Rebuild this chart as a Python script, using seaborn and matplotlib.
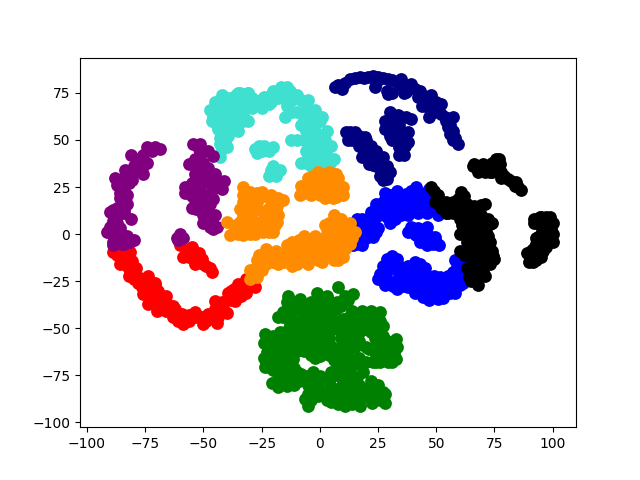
import matplotlib
matplotlib.use('Agg')
import matplotlib.pyplot as plt
import seaborn as sns

# puntos, un grupo por color
turq_x = [-45.8, -46.5, -43.7, -41.5, -39.4, -40.8, -42.2, -42.9, -43, -44.4, -42.2, -39.4, -35.8, -32.9, -34.4, -31.5, -34.4, -30.8, -27.9, -25.1, -20.8, -20.8, -16.5, -12.9, -10, -14.3, -15, -10, -5.8, 0, -4.3, -2.9, 2.1, -12.2, -10, -4.3, 2.8, -2.9, -5.8, 4.3, -1.5, -38, -38, -40, -44, -5, -2, -1, 3, -28, -24, -20, -25, -21, -17, -22,
          -44, -42, -40, -37, -36, -36, -38, -41, -44, -41, -40, -43, -33, -32, -29, -24, -22, -18, -18, -15, -14, -12, -12, -8, -7, -3, -2, -6, -1, -7, -3, 0, -1, -3, 1, -5, -1, -37, -35, -30, -40, -42, -26, -22, -27, -19, -19, -20,
          -47, -45, -42, -36, -35, -31, -38, -35, -31, -33, -29, -25, -22, -20, -16, -13, -8, -5, -2, 1, -8, -3, 3, 5, 3, -6, 6, -8, -4, 3]
turq_y = [62, 60, 56, 53, 52, 49, 45, 41, 51, 67, 71, 72, 70, 60, 65, 67, 75, 75, 69, 71, 70, 74, 78, 74, 74, 68, 62, 65, 66, 60, 59, 55, 50, 50, 50, 47, 43, 43, 38, 38, 36, 62, 67, 58, 61, 52, 50, 40, 36, 45, 47, 46, 44, 34, 34, 31,
          64, 66, 70, 73, 64, 60, 56, 60, 58, 51, 46, 48, 74, 70, 72, 73, 69, 72, 76, 75, 78, 71, 65, 65, 61, 63, 58, 55, 53, 50, 47, 45, 42, 40, 40, 41, 38, 66, 68, 69, 63, 57, 47, 44, 43, 33, 31, 36,
          66, 70, 74, 74, 75, 75, 60, 55, 60, 63, 67, 67, 73, 76, 72, 76, 71, 71, 66, 62, 58, 52, 55, 47, 47, 44, 40, 38, 36, 33]

purple_x = [-54.4, -51.5, -50.8, -45.8, -53.7, -50.1, -53.7, -49.4, -45.1, -42.9, -58, -56.5, -51.5, -46.5, -45.8, -53.7, -53, -49.4, -45.1, -45.8, -46.5, -50, -50, -51, -68.7, -71, -74.4, -78, -74.4, -83.7, -79.4, -87.3, -80.8, -85.8, -83, -90, -85, -81, -86.6, -91.6, -85.8, -88.7, -81.5, -85, -88, -88.7, -85.8, -81.5, -61.5, -58.7,
            -52, -53, -48, -49, -46, -44, -55, -53, -55, -48, -47, -51, -50, -48, -47, -44, -72, -76, -76, -80, -82, -82, -85, -84, -86, -83, -87, -88, -84, -89, -87, -89, -87, -84, -87, -84, -90, -61, -60,
            -48, -56, -48, -58, -55, -50, -45, -42, -41, -81, -76, -88, -84, -89, -84, -90, -83, -80]
purple_y = [48, 48, 43.5, 41.4, 40, 38, 32, 32, 30.3, 26.7, 25, 22.3, 25, 23.2, 18.8, 17.9, 13.5, 13.5, 10, 2.8, 6.4, 20, 28, 36, 45, 46, 46, 40, 38, 34, 33, 26, 28.5, 22, 20.5, 12, 15, 8, 10, 1, 3, -4, -3.4, -5, -4, -6, -4.4, -4, -1.8, -1.8,
            45, 36, 35, 29, 27, 28, 27, 22, 20, 20, 16, 16, 10, 9, 4, 4, 44, 42, 36, 36, 31, 27, 28, 25, 19, 16, 14, 11, 11, 7, 6, 2, 0, -1, -2, -5, 1, -3, 0,
            44, 37, 28, 22, 14, 6, 32, 24, 28, 42, 32, 30, 30, 13, 13, 4, -1, -3]

red_x = [-88.7, -85.8, -81.5, -80.8, -81.5, -78.7, -73.7, -76.5, -73, -73.7, -69.4, -68, -69.4, -64.4, -63, -58.7, -59.4, -53.7, -53.7, -50, -48, -43.7, -45, -41.5, -39.4, -36.5, -35, -31.5, -28, -31.5, -60, -55, -58.7, -53.7, -50.8, -53.7, -48.7, -46.1, -85, -71,
         -87, -84, -83, -79, -82, -76, -74, -77, -72, -70, -66, -66, -62, -61, -56, -56, -51, -49, -46, -45, -42, -38, -37, -33, -34, -29, -57, -56, -51, -50, -47, -56, -52,
         -86, -78, -80, -76, -70, -66, -71, -63, -50, -44, -38, -40]
red_y = [-9.7, -12.4, -9.7, -14.2, -20.3, -22, -22, -28.3, -31, -37, -30, -33.6, -38, -38, -44, -47.8, -42.5, -41.6, -44, -47.8, -42.5, -44, -35.4, -39, -31, -35.4, -26.5, -31, -28.3, -24, -6, -7, -12, -12, -13, -16, -17, -20, -8, -27,
         -11, -14, -17, -18, -22, -24, -26, -24, -34, -35, -36, -41, -40, -46, -43, -46, -44, -46, -43, -40, -36, -35, -29, -28, -33, -25, -9, -12, -15, -16, -18, -9, -10,
         -16, -26, -24, -32, -41, -33, -26, -38, -44, -47, -30, -42]

orange_x = [-33, -33, -34.4, -30, -25, -20.8, -15.8, -31.5, -26.5, -20.8, -19.3, -18.6, -28.6, -24.4, -33, -38.6, -40, -36.5, -34.4, -25.8, -18.6, -31.5, -8.6, -7.9, -2.9, 2.8, 7.1, 0, 5.7, -3, 5.7, 10, 7.1, 2.1, 4.3, -27, -25.7, -21.4, -22, -15.7, -12, -11.4, -7.8, -6.4, -0.7, -1.4, 4.3, 7.2, 10.8, 13, 10.8, 4.3, -30, -30, 6.4, 2.9, 12.2, 7.2, 10, 3, 7,
            -36, -33, -31, -28, -27, -23, -22, -21, -29, -24, -21, -18, -29, -24, -22, -19, -33, -30, -27, -29, -24, -21, -33, -27, -18, -35, -30, -20,
            -5, -6, -4, -7, -1, 1, -1, 4, 2, 4, 2, 6, 8, 8, 10, 7, -1, 5,
            -28, -27, -25, -23, -22, -24, -20, -18, -19, -16, -14, -13, -10, -10, -8, -9, -6, -4, -4, -3, -1, 1, 1, 2, 3, 5, 7, 8, 0, 6, 9, 11, 4, 6, 10, 13, 3, 9, -2,
            -27, -26, -23, -19, -14, -12, -9, -7, -14, -10, -5, 1, 6, 8, 10, 13, 14, 15, 2, 6, 9, 13]
orange_y = [25, 17, 13.5, 22.3, 22.3, 20.5, 18, 10, 13.5, 10, 4.6, 6.4, 2.8, 1, -0.7, -0.7, 6.4, 2.8, 6.4, 6.4, 15, 17, 20.5, 25.8, 31, 32, 32, 20.5, 19, 25, 32, 25, 19.6, 20, 26, -23, -15, -12.4, -10.6, -15, -17, -8, -2.6, -11.5, -14, -6, -2.6, -11.5, -2.6, 2.7, -8, -10, -19, -24, 8.1, 2.8, 3.7, 1, -2.5, -2.5, -4,
            5, 4, 2, 0, 4, 4, 1, 3, 8, 8, 7, 10, 12, 12, 14, 13, 10, 15, 17, 20, 20, 18, 21, 22, 19, 0, 0, 1,
            30, 25, 21, 22, 24, 30, 33, 33, 27, 22, 19, 24, 27, 30, 21, 20, 28, 29,
            -20, -17, -19, -16, -14, -12, -15, -16, -13, -12, -10, -14, -12, -6, -7, -10, -6, -3, -8, -12, -9, -6, -11, -2, -7, -6, -7, -3, -3, -1, 1, 1, 6, 5, 5, -1, 0, -6, -1,
            -14, -11, -8, -9, -6, -4, -3, -1, -15, -16, -16, -15, -14, -14, -12, -5, -2, 1, 5, 10, 8, 6]

green_x = [-13.6, -8.6, -15.7, -1.4, 1.5, 7.9, 14.3, 10.8, 7.2, -5.7, -8.6, 0, 4.3, 12.9, 18.6, 25.8, 22.9, 17.2, 8.6, -23.6, -17.1, -21.4, -12.1, -22.9, -15.7, -8.6, -23.6, -17.1, -12.8, -20.7, -14.3, -4.3, 1.5, 0, -5, -6.4, -5.7, 0, -2.8, 4.3, 4.3, 10, 8.6, 12.9, 11.5, 18.6, 14.3, 10.8, 17.2, 22.2, 27.9, 24.3, 20, 27.2, 32.9, 24.3, 32.9, 29.3, 22.9, 23.6, 5, -11.4, -18.6, -11.4, 7.2, -12.8, -2.8, -21.4, 27.2, 12.9,
           -12, -4, 3, 12, -12, -9, -2, 3, 7, 14, 18, 22, -16, -12, -4, 3, 7, 15, 20, 25, -9, -5, 0, 5, 11, 15, -20, -16, -8, -4, 4, 9, 14, -24, -19, -12, -2, 2, 9, 29, 25, 32, 28,
           -24, -20, -16, -13, -7, -4, 4, 12, 24, 21, 32, -20, -14, -11, 8, 14, 26, 31, -16, -9, -3, 2, 7, 13, 16, -18, -11, -5, -2, 5, 10, 17, 22, 27, -4, 0, 3, 8, 12, 16, 20, 24, 28, 5, 8, 14,
           17, 20, 17, 20, 24, 28, 31, 33, 18, 26, 22, 14, 10, 13, 18, 24, 22, 27,
           -14, -10, -14, -7, -7, -13, -18, -15, -8, -11, -20, -14, -10, -18, -23, -21, -16, -13, -10, -18, -15, -8, -5, -3, 5, -1, -3, 0, -1, 5, 5, 9, 6, 2, 9, -1, -6, 2, -2, 6, 11, 10, 7, 15, 17, 16, 9, 12, 18, 22, 25, 26, 6, 11, 3, 10, 14, -1]
green_y = [-32.7, -34.5, -41.6, -31, -38, -28.3, -31.8, -32.7, -36.3, -39.8, -46.9, -43.4, -45.1, -43.4, -43.4, -41.6, -47.8, -48.7, -50.4, -53.1, -52.2, -57.5, -54, -62.8, -61, -57.5, -70.8, -68.1, -75.2, -78.8, -80.5, -59.3, -55.7, -64.6, -91.1, -87.6, -75.2, -75.2, -84, -87.6, -77, -73.4, -66.4, -59.3, -68.1, -73.4, -82.3, -91.1, -91.1, -89.4, -89.4, -80.5, -82.3, -54, -55.7, -59.3, -66.4, -68.1, -68.1, -54.9, -59.3, -66.4, -73.4, -77, -82.3, -48.7, -52.2, -68.1, -61, -52.2,
           -36, -36, -33, -35, -40, -38, -41, -41, -40, -41, -41, -41, -44, -45, -46, -49, -46, -46, -46, -44, -50, -51, -50, -51, -50, -52, -54, -56, -54, -55, -55, -55, -56, -58, -61, -59, -60, -60, -60, -57, -56, -60, -64,
           -66, -64, -65, -62, -62, -64, -64, -64, -64, -61, -63, -72, -70, -71, -70, -70, -68, -68, -76, -78, -77, -77, -75, -74, -76, -78, -80, -80, -80, -81, -79, -80, -78, -84, -88, -83, -84, -86, -86, -86, -86, -85, -85, -89, -90, -90,
           -57, -60, -66, -68, -68, -67, -66, -60, -69, -46, -44, -44, -45, -48, -51, -51, -52, -49,
           -36, -40, -40, -43, -47, -48, -44, -52, -52, -56, -57, -60, -62, -67, -68, -71, -72, -67, -73, -81, -77, -74, -85, -73, -73, -46, -44, -38, -36, -36, -41, -38, -48, -52, -52, -56, -58, -63, -66, -67, -72, -60, -62, -60, -52, -68, -76, -78, -84, -82, -80, -88, -84, -83, -88, -89, -83, -86]

navy_x = [6.4, 9.3, 12.9, 17.2, 20.7, 25, 29.3, 23.6, 29.3, 35, 37.2, 34.3, 39.3, 43.6, 47.9, 52.2, 47.2, 49.3, 53.6, 57.2, 55, 57.2, 57.2, 59.3, 56.5, 44.3, 11.4, 15, 19.3, 16.4, 19.3, 22.2, 22.9, 25.7, 29.3, 22.9, 27.9, 27.2, 25, 30, 33.6, 39.3, 30, 30, 35.8, 32.2, 37.9, 35, 36.5, 32.9,
          8, 11, 15, 19, 23, 27, 31, 33, 36, 38, 41, 42, 45, 50, 46, 49, 52, 54, 56, 56, 58, 29, 31, 24, 36,
          13, 17, 14, 17, 18, 20, 21, 24, 26, 27, 24, 28, 26, 32, 35, 37, 31, 32, 34, 33, 36, 34, 37, 31,
          44, 47, 43, 12, 20, 22, 18, 24, 27, 21, 29, 30, 29, 28, 28, 30, 38, 34, 36]
navy_y = [78, 77.2, 82.5, 83.4, 83.4, 83.4, 82.5, 78, 74.5, 82.5, 75.4, 79, 79.8, 74.5, 73.6, 69.2, 65.7, 68.3, 62.1, 62.1, 56.8, 55, 49.7, 48, 53.3, 71, 54.2, 54.2, 51.5, 48.9, 44.4, 43.5, 36.5, 35.6, 33.8, 40, 30.3, 28.5, 40, 64.8, 63, 61.2, 59.5, 55, 53.3, 49.7, 48.9, 43.5, 47, 57.7,
          79, 80, 83, 83, 84, 83, 82, 81, 78, 77, 77, 73, 72, 70, 68, 65, 64, 60, 58, 53, 51, 76, 75, 80, 75,
          54, 52, 50, 47, 46, 42, 40, 38, 39, 33, 36, 36, 31, 62, 62, 62, 61, 55, 58, 52, 51, 46, 50, 50,
          68, 62, 76, 50, 50, 47, 41, 44, 41, 37, 36, 33, 29, 60, 56, 52, 54, 42, 42]

blue_x = [41.5, 37.2, 30, 27.2, 32.2, 21.5, 17.9, 22.9, 18.6, 22.9, 15.7, 34.3, 38.6, 42.9, 47.2, 44.3, 28.6, 24.3, 20, 50.8, 14.3, 23, 17, 39.3, 42.2, 45.8, 49.3, 50, 44.3, 41.5, 40, 48.6, 44.4, 30.8, 31.5, 25.8, 31.5, 35.8, 28.6, 35.8, 42.2, 44.4, 44.4, 50.8, 51.5, 48, 55.8, 58, 58.7, 61.5, 54.4, 63, 38.6, 45, 53,
          41, 39, 36, 33, 30, 28, 31, 34, 36, 40, 43, 46, 44, 26, 24, 21, 19, 23, 26, 29, 31, 17, 19, 21, 16, 14, 20, 33, 47, 45,
          31, 30, 33, 34, 29, 27, 33, 38, 40, 41, 37, 43, 46, 42, 44, 47, 49, 53, 50, 47, 55, 57, 60, 60, 57, 59, 41, 43, 44, 46, 47, 40,
          33, 28, 24, 22, 16, 14, 30, 35, 38, 42, 46, 48, 25, 24, 12, 18, 47,
          27, 29, 33, 34, 38, 41, 43, 45, 49, 25, 28, 33, 38, 41, 47, 53, 55, 60, 63, 60, 58, 38, 39, 45, 51, 46, 43]
blue_y = [25, 21.4, 20.5, 17, 8.1, 9, 8.1, 5.5, -2.5, -1.6, -5, 17, 13.5, 17, 15, 20.5, 13.5, 11.7, 2.8, 10, -6, -1, -2.6, 2, 3, 3.7, -1.6, -4.2, -2.5, -0.7, 1, -5.3, -2.6, -11.5, -16, -21, -27.4, -27.4, -22, -20, -18.6, -24, -33.6, -34.5, -23, -29, -31, -31, -17.7, -25.7, -25.7, -20, -24, -28, -30,
          22, 23, 19, 19, 17, 17, 14, 14, 14, 17, 20, 18, 14, 15, 9, 6, 5, 8, 11, 9, 11, 4, 0, 2, 0, -3, -2, 10, 20, 22,
          -13, -18, -19, -23, -25, -23, -25, -21, -19, -24, -24, -21, -26, -28, -30, -32, -31, -27, -26, -23, -22, -20, -20, -23, -28, -26, 0, 1, -1, -3, -1, 3,
          23, 22, 16, 12, 8, 5, 6, 10, 10, 11, 11, 13, 3, 1, -6, -6, 24,
          -17, -13, -13, -17, -17, -15, -16, -18, -22, -24, -27, -29, -28, -31, -35, -34, -28, -27, -16, -15, -14, 1, 4, 1, -6, -6, -4]

black_x = [47.9, 50.8, 49.3, 53.6, 55.8, 58.6, 60.8, 59.3, 64.3, 69.4, 60, 65.8, 72.9, 61.5, 68.6, 71.5, 64.3, 70, 65.8, 63, 71.5, 62.2, 74.4, 67.2, 64.4, 70, 67.2, 68.7, 65, 94.4, 98.7, 94.4, 99.4, 93.7, 98.7, 91.5, 95.8, 98.7, 95.8, 90.8, 91.6, 95.1, 93.7, 65.8, 70, 72.9, 75.8, 77.2, 74.4, 80.8, 84.4, 86.5, 83.7,
           49, 51, 52, 54, 55, 57, 60, 62, 61, 62, 65, 67, 63, 67, 70, 67, 61, 69, 63, 66, 68, 70, 66, 64, 70, 67, 71, 64, 68, 66, 70, 72, 65, 68,
           95, 97, 96, 95, 97, 93, 91, 94, 93, 97, 68, 72, 74, 76, 74, 78, 79, 82, 85, 70,
           54, 57, 63, 66, 71, 72, 74, 60, 62, 60, 63, 73, 72, 74, 75, 73, 62, 63, 71, 64, 68,
           92, 92, 100, 100, 100, 97, 93, 89, 90, 96, 68, 66, 77, 71, 78]
black_y = [25, 20.5, 17, 13.5, 15.2, 14.3, 22.3, 18.8, 14.3, 15.2, 8.1, 10, 5.5, 2, 2.8, -0.7, -3.4, -5.1, 4.6, 1, 1, -9.7, -11.5, -8, -16.8, -15, -24, -4.4, -24.8, 9, 9, 4.6, 2.8, -1.6, -2.5, -7.8, 2.7, -0.9, -6.2, -8.8, -15, -12.4, -8, 36, 34.7, 33, 40, 37.3, 35.6, 29.4, 27.6, 23.2, 25.8,
           23, 18, 14, 11, 11, 11, 17, 20, 12, 10, 12, 14, 6, 6, 5, 8, 5, 10, -1, -1, 1, -3, -5, -6, -7, -12, -11, -12, -16, -20, -20, -10, -8, -20,
           9, 6, 3, 0, -3, -5, -11, -11, -14, 9, 35, 36, 38, 36, 33, 33, 31, 28, 25, 37,
           17, 17, 16, 15, 16, 8, 6, 0, 3, -9, -4, -4, -1, -9, -13, -16, -11, -18, -22, -23, -27,
           8, 6, 6, 0, -4, -7, -2, -10, -15, -9, 33, 37, 40, 33, 30]

grupos = [
    (red_x, red_y, 'red'),
    (turq_x, turq_y, 'turquoise'),
    (purple_x, purple_y, 'purple'),
    (blue_x, blue_y, 'blue'),
    (orange_x, orange_y, 'darkorange'),
    (green_x, green_y, 'green'),
    (navy_x, navy_y, 'navy'),
    (black_x, black_y, 'black'),
]

fig, ax = plt.subplots(figsize=(6.4, 4.8), dpi=100)
for xs, ys, color in grupos:
    sns.scatterplot(x=xs, y=ys, color=color, s=85, linewidth=0, ax=ax)

ax.set_xlim(-103, 110)
ax.set_ylim(-102.5, 93.7)
fig.savefig('out.png', dpi=100)
